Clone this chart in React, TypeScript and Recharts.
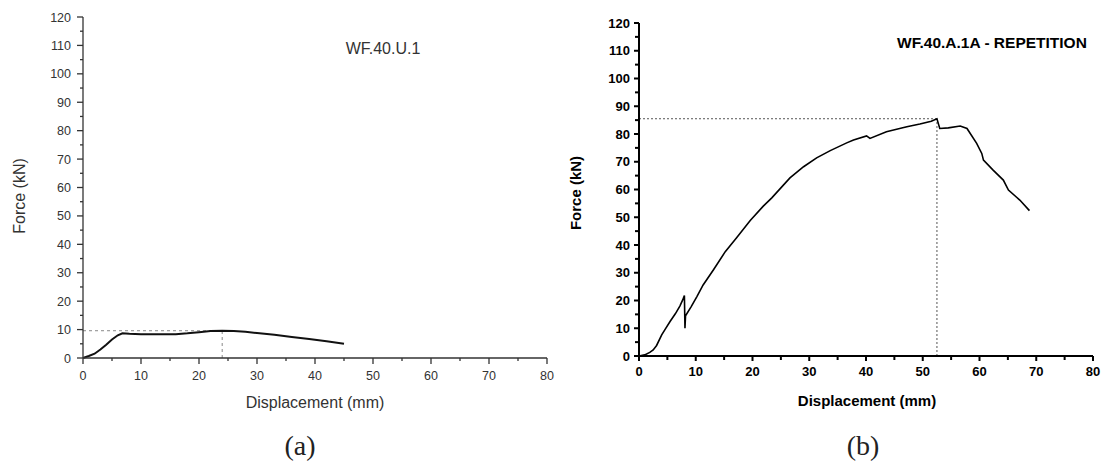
import React from 'react';
import { LineChart, Line, XAxis, YAxis, ReferenceLine } from 'recharts';

// (a) WF.40.U.1
const dispA = [0, 1, 2, 3, 4, 5, 6, 6.8, 8, 10, 13, 16, 18, 20, 22, 24, 26, 28, 30, 33, 36, 39, 42, 45];
const forceA = [0, 0.7, 1.5, 3.0, 4.7, 6.5, 8.0, 8.7, 8.5, 8.4, 8.4, 8.4, 8.7, 9.1, 9.5, 9.6, 9.5, 9.2, 8.8, 8.2, 7.4, 6.7, 5.9, 5.0];
const peakA = { disp: 24, force: 9.6 };

// (b) WF.40.A.1A - REPETITION
const dispB = [
  0, 1.0, 1.9, 2.5, 3.1, 4.0, 4.6, 5.5, 6.4, 7.2, 7.7, 8.0, 8.1, 8.2, 9.2, 10.2, 11.3, 13.1, 15.2, 17.2,
  19.6, 21.9, 23.4, 25.4, 26.6, 29.0, 31.3, 33.7, 36.6, 37.8, 40.1, 40.7, 43.6, 47.2, 49.5, 51.5, 52.5,
  53.0, 54.5, 56.6, 57.8, 59.5, 60.4, 60.7, 62.4, 64.2, 65.1, 67.1, 68.8,
];
const forceB = [
  0, 0.4, 1.3, 2.2, 3.8, 7.6, 9.6, 12.5, 15.2, 18.0, 20.2, 21.8, 10.0, 14.5, 17.8, 21.4, 25.6, 31.0, 37.6, 42.6,
  48.8, 54.0, 57.0, 61.5, 64.2, 68.2, 71.4, 74.0, 76.8, 77.8, 79.3, 78.4, 80.8, 82.6, 83.6, 84.6, 85.5,
  82.0, 82.2, 82.9, 82.0, 76.6, 73.0, 70.6, 67.0, 63.4, 59.8, 56.2, 52.4,
];
const peakB = { disp: 52.5, force: 85.5 };

const xTicks = [0, 5, 10, 15, 20, 25, 30, 35, 40, 45, 50, 55, 60, 65, 70, 75, 80];
const yTicks = [0, 5, 10, 15, 20, 25, 30, 35, 40, 45, 50, 55, 60, 65, 70, 75, 80, 85, 90, 95, 100, 105, 110, 115, 120];

const dataA = dispA.map((d, i) => ({ disp: d, force: forceA[i] }));
const dataB = dispB.map((d, i) => ({ disp: d, force: forceB[i] }));

type TickStyle = {
  major: number;
  minor: number;
  gap: number;
  stroke: string;
  sw: number;
  fontSize: number;
  fontWeight: number;
  color: string;
};

const styleA: TickStyle = { major: 6, minor: 3, gap: 12, stroke: '#333', sw: 1.3, fontSize: 12.5, fontWeight: 400, color: '#333' };
const styleB: TickStyle = { major: 5, minor: 4, gap: 10, stroke: '#000', sw: 2, fontSize: 13, fontWeight: 700, color: '#000' };

const FONT = '"Liberation Sans", Arial, sans-serif';

function makeTick(axis: 'x' | 'y', s: TickStyle) {
  return (props: any) => {
    const { x, y, payload } = props;
    const v = payload.value;
    const major = v % 10 === 0;
    const len = major ? s.major : s.minor;
    if (axis === 'x') {
      const ay = y - s.gap;
      return (
        <g>
          <line x1={x} x2={x} y1={ay} y2={ay + len} stroke={s.stroke} strokeWidth={s.sw} />
          {major && (
            <text x={x} y={y} dy="0.71em" textAnchor="middle" fontSize={s.fontSize} fontWeight={s.fontWeight} fill={s.color} fontFamily={FONT}>
              {v}
            </text>
          )}
        </g>
      );
    }
    const ax = x + s.gap;
    return (
      <g>
        <line x1={ax} x2={ax - len} y1={y} y2={y} stroke={s.stroke} strokeWidth={s.sw} />
        {major && (
          <text x={x} y={y} dy="0.36em" textAnchor="end" fontSize={s.fontSize} fontWeight={s.fontWeight} fill={s.color} fontFamily={FONT}>
            {v}
          </text>
        )}
      </g>
    );
  };
}

export default function App() {
  return (
    <div style={{ position: 'fixed', left: 0, top: 0, width: 1102, height: 464, background: '#fff' }}>
      <div style={{ position: 'absolute', left: 0, top: 0 }}>
        <LineChart width={560} height={464} data={dataA} margin={{ top: 17, right: 13, bottom: 56, left: 0 }}>
          <XAxis
            dataKey="disp"
            type="number"
            domain={[0, 80]}
            ticks={xTicks}
            interval={0}
            height={50}
            tickSize={6}
            tickMargin={7}
            tickLine={false}
            stroke={styleA.stroke}
            strokeWidth={styleA.sw}
            tick={makeTick('x', { ...styleA, gap: 13 })}
          />
          <YAxis
            type="number"
            domain={[0, 120]}
            ticks={yTicks}
            interval={0}
            width={83}
            tickSize={6}
            tickMargin={6}
            tickLine={false}
            stroke={styleA.stroke}
            strokeWidth={styleA.sw}
            tick={makeTick('y', styleA)}
          />
          <ReferenceLine
            segment={[{ x: 0, y: peakA.force }, { x: peakA.disp, y: peakA.force }]}
            stroke="#888"
            strokeDasharray="3 3"
            strokeWidth={1}
          />
          <ReferenceLine
            segment={[{ x: peakA.disp, y: 0 }, { x: peakA.disp, y: peakA.force }]}
            stroke="#888"
            strokeDasharray="3 3"
            strokeWidth={1}
          />
          <Line dataKey="force" type="linear" stroke="#111" strokeWidth={2} dot={false} isAnimationActive={false} />
        </LineChart>
      </div>

      <div style={{ position: 'absolute', left: 560, top: 0 }}>
        <LineChart width={542} height={464} data={dataB} margin={{ top: 23, right: 9, bottom: 58, left: 0 }}>
          <XAxis
            dataKey="disp"
            type="number"
            domain={[0, 80]}
            ticks={xTicks}
            interval={0}
            height={50}
            tickSize={5}
            tickMargin={6}
            tickLine={false}
            stroke={styleB.stroke}
            strokeWidth={styleB.sw}
            tick={makeTick('x', { ...styleB, gap: 11 })}
          />
          <YAxis
            type="number"
            domain={[0, 120]}
            ticks={yTicks}
            interval={0}
            width={79}
            tickSize={5}
            tickMargin={4}
            tickLine={false}
            stroke={styleB.stroke}
            strokeWidth={styleB.sw}
            tick={makeTick('y', { ...styleB, gap: 9 })}
          />
          <ReferenceLine
            segment={[{ x: 0, y: peakB.force }, { x: peakB.disp, y: peakB.force }]}
            stroke="#555"
            strokeDasharray="2 2"
            strokeWidth={1}
          />
          <ReferenceLine
            segment={[{ x: peakB.disp, y: 0 }, { x: peakB.disp, y: peakB.force }]}
            stroke="#555"
            strokeDasharray="2 2"
            strokeWidth={1}
          />
          <Line dataKey="force" type="linear" stroke="#000" strokeWidth={1.6} dot={false} isAnimationActive={false} />
        </LineChart>
      </div>

      <svg width={1102} height={464} style={{ position: 'absolute', left: 0, top: 0, pointerEvents: 'none' }}>
        <g fontFamily={FONT}>
          <text x={383} y={48} textAnchor="middle" dominantBaseline="central" fontSize={16} fill="#333">WF.40.U.1</text>
          <text x={315} y={402} textAnchor="middle" dominantBaseline="central" fontSize={16} fill="#333">Displacement (mm)</text>
          <text x={19} y={196} textAnchor="middle" dominantBaseline="central" fontSize={16} fill="#333" transform="rotate(-90 19 196)">Force (kN)</text>

          <text x={992} y={42} textAnchor="middle" dominantBaseline="central" fontSize={15.5} fontWeight={700} fill="#000">WF.40.A.1A - REPETITION</text>
          <text x={867} y={400} textAnchor="middle" dominantBaseline="central" fontSize={15} fontWeight={700} fill="#000">Displacement (mm)</text>
          <text x={575} y={193} textAnchor="middle" dominantBaseline="central" fontSize={15} fontWeight={700} fill="#000" transform="rotate(-90 575 193)">Force (kN)</text>
        </g>
        <g fontFamily='"Liberation Serif", "Times New Roman", serif' fontSize={28} fill="#222">
          <text x={300} y={445} textAnchor="middle" dominantBaseline="central">(a)</text>
          <text x={863} y={445} textAnchor="middle" dominantBaseline="central">(b)</text>
        </g>
      </svg>
    </div>
  );
}
